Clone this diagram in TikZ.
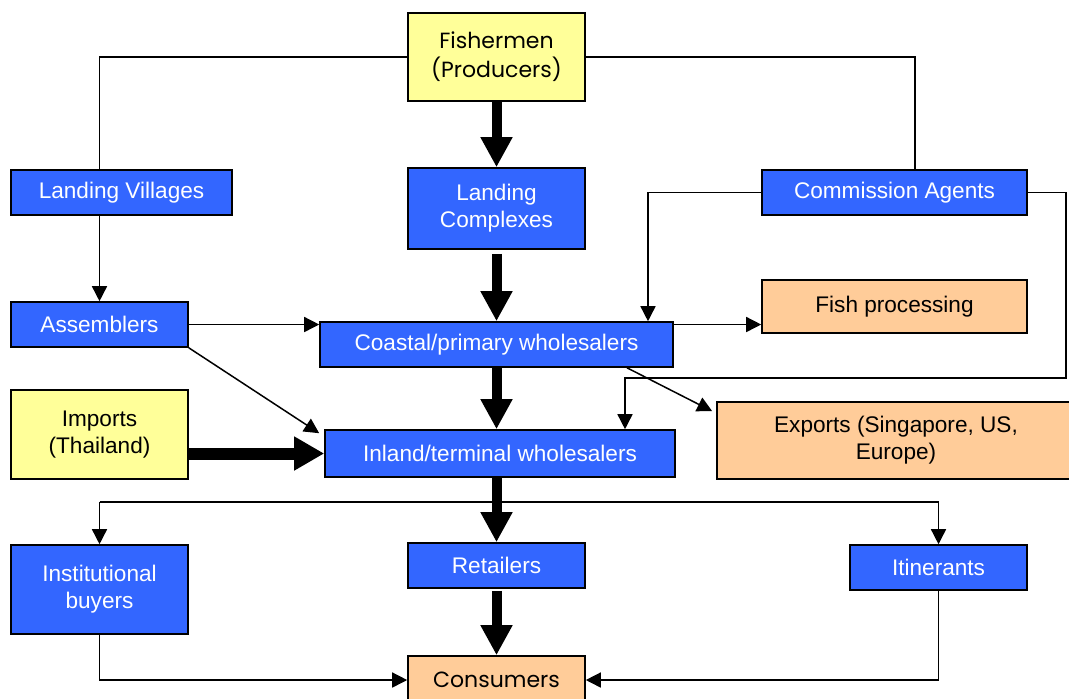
\documentclass[tikz,border=0pt]{standalone}
\usepackage{fontspec}
\setmainfont{Liberation Sans}
\newfontfamily\gothic{Poppins}
\usepackage{tikz}
\usetikzlibrary{arrows.meta,positioning}
\usepackage{xcolor}
\definecolor{boxblue}{HTML}{3366FF}
\definecolor{boxyellow}{HTML}{FFFF99}
\definecolor{boxorange}{HTML}{FFCC99}

\begin{document}
\begin{tikzpicture}[x=0.5pt, y=-0.5pt,
    every node/.style={font=\fontsize{11.3}{13.5}\selectfont},
    box/.style={draw=black, line width=0.8pt, inner sep=0pt, align=center},
    sz/.style 2 args={minimum width=#1*0.5pt, minimum height=#2*0.5pt},
    agent/.style={box, fill=boxblue, text=white},
    source/.style={box, fill=boxyellow, text=black},
    outlet/.style={box, fill=boxorange, text=black},
    link/.style={line width=0.75pt, -{Triangle[width=7.5pt,length=7.5pt]}},
    plain/.style={line width=0.75pt},
    bigarrow/.style={line width=5pt, -{Triangle[width=15pt,length=15pt]}}]
  \useasboundingbox (0,0) rectangle (1069,698);
  % nodes
  \node[source, sz={177}{88}, font=\gothic\fontsize{11}{14.5}\selectfont] (fish) at (496.5,57) {Fishermen\\(Producers)};
  \node[agent, sz={221}{45}] (lvill) at (121.5,192.5) {Landing Villages};
  \node[agent, sz={177}{81}] (lcomp) at (496.5,208.5) {Landing\\Complexes};
  \node[agent, sz={265}{45}] (cagent) at (894.5,192.5) {Commission Agents};
  \node[agent, sz={177}{45}] (assem) at (99.5,324.5) {Assemblers};
  \node[agent, sz={353}{45}] (coast) at (496.5,344.5) {Coastal/primary wholesalers};
  \node[outlet, sz={265}{53}] (fproc) at (894.5,306.5) {Fish processing};
  \node[source, sz={177}{89}] (imp) at (99.5,434.5) {Imports\\(Thailand)};
  \node[agent, sz={350}{47}] (inland) at (500,453.5) {Inland/terminal wholesalers};
  \node[outlet, sz={358}{77}] (exp) at (896,440.5) {Exports (Singapore, US,\\Europe)};
  \node[agent, sz={177}{89}] (inst) at (99.5,589.5) {Institutional\\buyers};
  \node[agent, sz={177}{45}] (retail) at (496.5,565.5) {Retailers};
  \node[agent, sz={177}{45}] (itin) at (938.5,567.5) {Itinerants};
  \node[outlet, sz={177}{48}, font=\gothic\fontsize{11}{13.5}\selectfont] (cons) at (496.5,680) {Consumers};
  \coordinate (turn) at (1066,378);
  \coordinate (split) at (497,502);
  % main chain
  \draw[bigarrow] (fish) -- (lcomp);
  \draw[bigarrow, shorten <=2pt] (lcomp) -- (coast);
  \draw[bigarrow] (coast.south) -- (coast.south |- inland.north);
  \draw[bigarrow] (retail.north |- inland.south) -- (retail.north);
  \draw[bigarrow, shorten <=1pt] (retail) -- (cons);
  \draw[line width=6pt, -{Triangle[width=16pt,length=15pt]}] (imp.east |- inland.west) -- (inland.west);
  % side channels
  \draw[plain] (fish.west) -| (assem.north |- lvill.north);
  \draw[plain] (fish.east) -| ([xshift=10.25pt]cagent.north);
  \draw[link] (assem.north |- lvill.south) -- (assem.north);
  \draw[link] (assem.east) -- (assem.east -| coast.west);
  \draw[link] (assem.south east) -- ([xshift=-2.5pt,yshift=-2pt]inland.north west);
  \draw[link] (cagent.west) -| ([xshift=75.75pt]coast.north);
  \draw[link] (assem.east -| coast.east) -- (assem.east -| fproc.west);
  \draw[link] (cagent.east) -| (turn) -| ([xshift=62.5pt]inland.north);
  \draw[link] ([xshift=65.25pt]coast.south) -- ([xshift=-2pt,yshift=-5pt]exp.north west);
  % distribution
  \draw[plain] (split -| inst.north) -- (split -| itin.north);
  \draw[link] (split -| inst.north) -- (inst.north);
  \draw[link] (split -| itin.north) -- (itin.north);
  \draw[link] (inst.south) |- (cons.west);
  \draw[link] (itin.south) |- (cons.east);
\end{tikzpicture}
\end{document}
